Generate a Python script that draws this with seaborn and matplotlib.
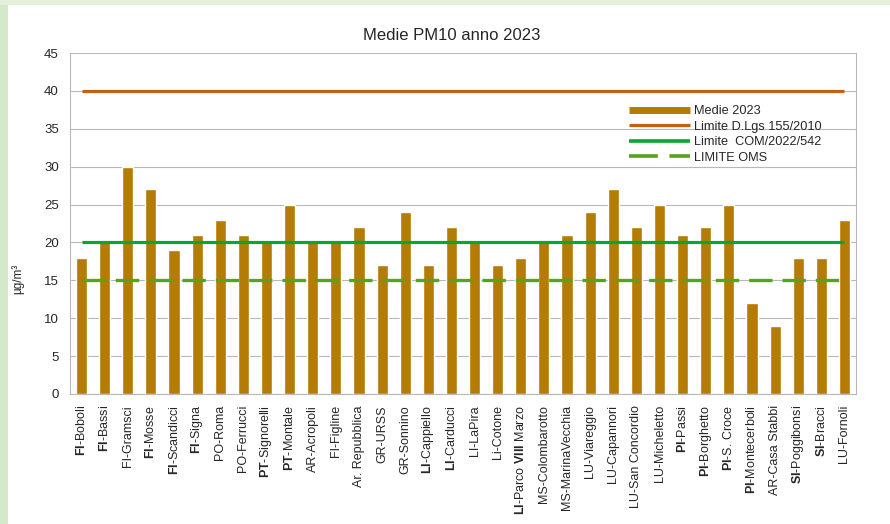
import numpy as np
import pandas as pd
import matplotlib
matplotlib.use("Agg")
import matplotlib.pyplot as plt
from matplotlib.lines import Line2D
from matplotlib.patches import Rectangle
import seaborn as sns

# Stations (display labels, province prefix in bold where printed bold)
stations = [
    r"$\mathbf{FI}$-Boboli", r"$\mathbf{FI}$-Bassi", "FI-Gramsci", r"$\mathbf{FI}$-Mosse",
    r"$\mathbf{FI}$-Scandicci", r"$\mathbf{FI}$-Signa", "PO-Roma", "PO-Ferrucci",
    r"$\mathbf{PT}$-Signorelli", r"$\mathbf{PT}$-Montale", "AR-Acropoli", "FI-Figline",
    "Ar. Repubblica", "GR-URSS", "GR-Sonnino", r"$\mathbf{LI}$-Cappiello",
    r"$\mathbf{LI}$-Carducci", "LI-LaPira", "Li-Cotone", r"$\mathbf{LI}$-Parco $\mathbf{VIII}$ Marzo",
    "MS-Colombarotto", "MS-MarinaVecchia", "LU-Viareggio", "LU-Capannori",
    "LU-San Concordio", "LU-Micheletto", r"$\mathbf{PI}$-Passi", r"$\mathbf{PI}$-Borghetto",
    r"$\mathbf{PI}$-S. Croce", r"$\mathbf{PI}$-Montecerboli", "AR-Casa Stabbi", r"$\mathbf{SI}$-Poggibonsi",
    r"$\mathbf{SI}$-Bracci", "LU-Fornoli",
]

# Annual mean PM10 (µg/m³)
medie_2023 = [
    18, 20, 30, 27, 19, 21, 23, 21, 20, 25, 20, 20, 22, 17, 24, 17, 22,
    20, 17, 18, 20, 21, 24, 27, 22, 25, 21, 22, 25, 12, 9, 18, 18, 23,
]

# Reference limits
limite_dlgs = 40
limite_com = 20
limite_oms = 15

y_ticks = [0, 5, 10, 15, 20, 25, 30, 35, 40, 45]

sns.set_style("white")
plt.rcParams["font.family"] = ["Liberation Sans", "DejaVu Sans"]
plt.rcParams["mathtext.fontset"] = "custom"
plt.rcParams["mathtext.rm"] = "Liberation Sans"
plt.rcParams["mathtext.bf"] = "Liberation Sans:bold"
plt.rcParams["mathtext.it"] = "Liberation Sans:italic"
plt.rcParams["mathtext.default"] = "regular"

BAR = "#b47b05"
ORANGE = "#c75f10"
GREEN = "#00a933"
GREEN_D = "#57a21f"
GRID = "#b8b8b8"

W, H = 890, 524
fig = plt.figure(figsize=(W / 100, H / 100), dpi=100, facecolor="white")

# Light green frame strips at the left and top edges
fig.patches.append(Rectangle((0, 0), 8 / W, 1, transform=fig.transFigure,
                             facecolor="#d6e8ca", edgecolor="none", zorder=0))
fig.patches.append(Rectangle((0, 1 - 5 / H), 1, 5 / H, transform=fig.transFigure,
                             facecolor="#e4f0dc", edgecolor="none", zorder=0))

ax = fig.add_axes([70 / W, 1 - 394 / H, (856 - 70) / W, (394 - 53) / H])

df = pd.DataFrame({"stazione": range(len(medie_2023)), "valore": medie_2023})
df["stazione"] = df["stazione"].astype(str)
sns.barplot(data=df, x="stazione", y="valore", color=BAR, saturation=1,
            width=0.48, ax=ax, zorder=3)

n = len(medie_2023)
xs = np.arange(n)
ax.plot(xs, np.full(n, limite_dlgs), color=ORANGE, lw=2.3,
        solid_capstyle="butt", zorder=4)
ax.plot(xs, np.full(n, limite_com), color=GREEN, lw=2.3,
        solid_capstyle="butt", zorder=4)
ax.plot(xs, np.full(n, limite_oms), color=GREEN_D, lw=2.4,
        linestyle=(0, (7.0, 3.0)), dash_capstyle="butt", zorder=4)

ax.set_xlim(-0.5, n - 0.5)
ax.set_ylim(0, 45)
ax.set_yticks(y_ticks)
ax.set_yticklabels([str(v) for v in y_ticks], fontsize=9.5)
ax.set_xticks(xs)
ax.set_xticklabels(stations, rotation=90, fontsize=9, va="top", ha="center")
ax.set_xticks(np.arange(n + 1) - 0.5, minor=True)
ax.tick_params(axis="x", which="major", length=0, pad=8)
ax.tick_params(axis="x", which="minor", length=5, color=GRID, width=0.8)
ax.tick_params(axis="y", length=5, color=GRID, width=0.8, pad=3)
ax.set_xlabel("")
ax.set_ylabel("")

ax.yaxis.grid(True, color=GRID, lw=0.8, zorder=0)
ax.set_axisbelow(True)
for side in ["left", "right", "bottom"]:
    ax.spines[side].set_visible(True)
    ax.spines[side].set_color(GRID)
    ax.spines[side].set_linewidth(0.8)
ax.spines["top"].set_visible(False)

fig.text(452 / W, 1 - 35 / H, "Medie PM10 anno 2023", ha="center",
         va="center", fontsize=12)
fig.text(18 / W, 1 - 279 / H, "µg/m³", rotation=90, ha="center",
         va="center", fontsize=8.5)

handles = [
    Line2D([], [], color=BAR, lw=5, solid_capstyle="butt"),
    Line2D([], [], color=ORANGE, lw=2.3, solid_capstyle="butt"),
    Line2D([], [], color=GREEN, lw=2.6, solid_capstyle="butt"),
    Line2D([], [], color=GREEN_D, lw=2.6, linestyle=(0, (8.0, 3.2)),
           dash_capstyle="butt"),
]
labels = ["Medie 2023", "Limite D.Lgs 155/2010", "Limite  COM/2022/542", "LIMITE OMS"]
fig.legend(handles, labels, loc="upper left",
           bbox_to_anchor=(629 / W, 1 - 105 / H), frameon=False, fontsize=9.2,
           handlelength=4.8, handletextpad=0.3, labelspacing=0.28,
           borderpad=0, borderaxespad=0)

fig.savefig("out.png", dpi=100, facecolor=fig.get_facecolor())
